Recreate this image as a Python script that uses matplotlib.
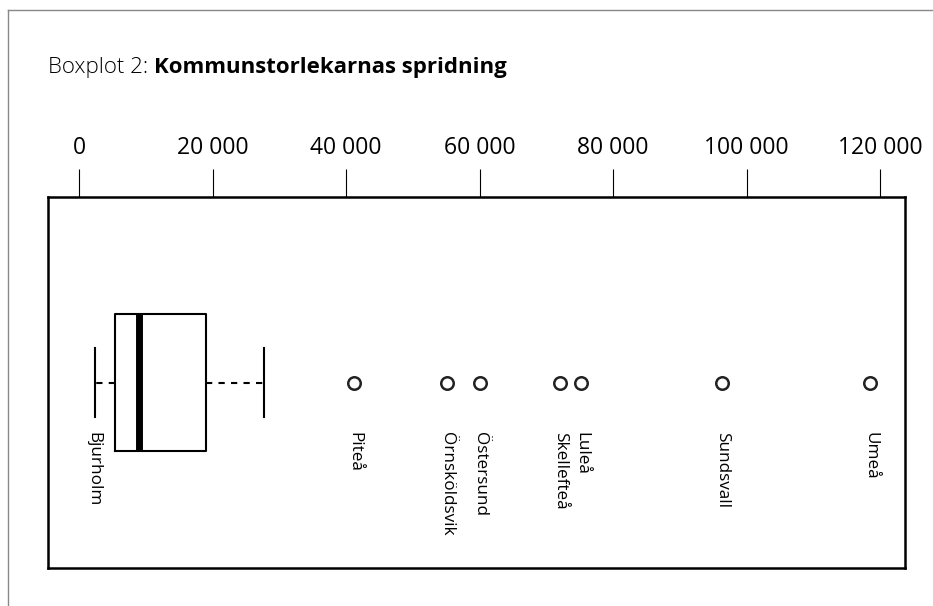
import numpy as np
import matplotlib.pyplot as plt
from matplotlib.lines import Line2D

# Kommuner som ligger utanför morrhåren (invånare)
namn = ['Piteå', 'Örnsköldsvik', 'Östersund', 'Skellefteå', 'Luleå', 'Sundsvall', 'Umeå']
invanare = [41200, 55100, 60100, 72100, 75200, 96300, 118500]

# Lådans statistik
minsta_namn = 'Bjurholm'
minsta = 2400
q1 = 5400
median = 9000
q3 = 19000
ovre_morrhar = 27700

tick_varden = [0, 20000, 40000, 60000, 80000, 100000, 120000]
tick_text = ['0', '20 000', '40 000', '60 000', '80 000', '100 000', '120 000']

plt.rcParams['font.family'] = ['Open Sans', 'DejaVu Sans']

W, H = 933, 606
fig = plt.figure(figsize=(W / 100, H / 100), dpi=100)
ax = fig.add_axes([48 / W, (H - 568) / H, (905 - 48) / W, (568 - 197) / H])

stats = [{'whislo': minsta, 'q1': q1, 'med': median, 'q3': q3, 'whishi': ovre_morrhar,
          'fliers': np.array(invanare)}]
ax.bxp(stats, positions=[0.5], widths=0.37, vert=False, capwidths=0.186,
       boxprops=dict(color='black', linewidth=1.5),
       medianprops=dict(color='black', linewidth=5),
       whiskerprops=dict(color='black', linewidth=1.5, linestyle=(0, (3, 3))),
       capprops=dict(color='black', linewidth=1.5),
       flierprops=dict(marker='o', markerfacecolor='none', markeredgecolor='#222222',
                       markersize=9, markeredgewidth=1.8))

# Namn under punkterna
for n, v in zip(namn, invanare):
    ax.text(v, 0.367, n, rotation=270, ha='center', va='top', fontsize=12.3)
ax.text(minsta - 300, 0.367, minsta_namn, rotation=270, ha='center', va='top', fontsize=12.3)

ax.set_xlim(-4640, 123700)
ax.set_ylim(0, 1)
ax.set_yticks([])
ax.xaxis.tick_top()
ax.set_xticks(tick_varden)
ax.set_xticklabels(tick_text, fontsize=16.5)
ax.tick_params(axis='x', direction='out', length=20, width=0.8, pad=7)
for s in ax.spines.values():
    s.set_linewidth(1.8)

t = fig.text(48 / W, 1 - 67 / H, 'Boxplot 2: ', fontsize=16, fontweight='light',
             va='center', ha='left')
fig.canvas.draw()
bb = t.get_window_extent()
fig.text(bb.x1 / W, 1 - 67 / H, 'Kommunstorlekarnas spridning', fontsize=16,
         fontweight='bold', va='center', ha='left')

# Ram runt bilden
fig.add_artist(Line2D([8 / W, 1], [1 - 10 / H, 1 - 10 / H], color='#888888', linewidth=1))
fig.add_artist(Line2D([8 / W, 8 / W], [0, 1 - 10 / H], color='#888888', linewidth=1))

fig.savefig('out.png', dpi=100)
